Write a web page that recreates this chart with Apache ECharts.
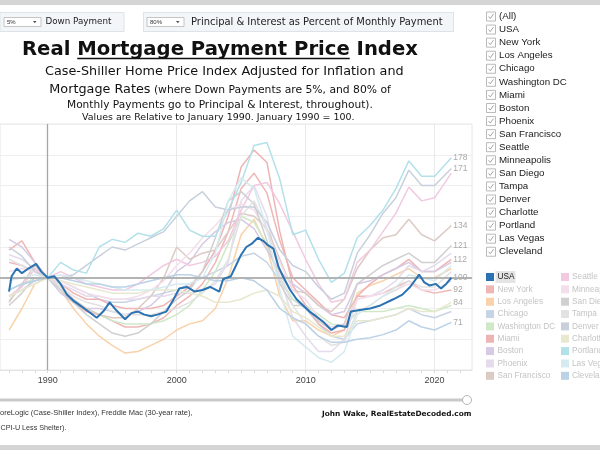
<!DOCTYPE html>
<html>
<head>
<meta charset="utf-8">
<script src="https://cdn.jsdelivr.net/npm/echarts@6/dist/echarts.min.js"></script>
<style>
  html, body { margin: 0; padding: 0; background: #fff; }
  #chart { width: 600px; height: 450px; }
</style>
</head>
<body>
<div id="chart"></div>
<script>
// ---- data (index, Jan 1990 = 100) ----
var years = [1987, 1988, 1989, 1990, 1991, 1992, 1993, 1994, 1995, 1996, 1997, 1998,
  1999, 2000, 2001, 2002, 2003, 2004, 2005, 2006, 2007, 2008, 2009, 2010, 2011, 2012,
  2013, 2014, 2015, 2016, 2017, 2018, 2019, 2020, 2021.3];

var usaYears = [1987.0, 1987.2, 1987.6, 1988.0, 1988.5, 1989.1, 1989.5, 1990.0, 1990.5, 1991.0,
  1991.5, 1992.0, 1992.5, 1993.0, 1993.8, 1994.3, 1994.8, 1995.3, 1996.0, 1996.5, 1997.0,
  1997.5, 1998.0, 1998.5, 1999.2, 1999.7, 2000.2, 2000.8, 2001.4, 2002.0, 2002.6, 2003.3,
  2003.6, 2004.2, 2004.6, 2005.0, 2005.4, 2005.8, 2006.3, 2006.7, 2007.1, 2007.5, 2007.9,
  2008.3, 2008.8, 2009.3, 2009.8, 2010.3, 2010.8, 2011.4, 2012.0, 2012.5, 2013.2, 2013.5,
  2014.2, 2015.0, 2015.8, 2016.8, 2017.5, 2018.1, 2018.8, 2019.2, 2019.6, 2020.1, 2020.5,
  2020.9, 2021.3];
var usa = [91, 101, 106, 103, 106, 109, 104, 100, 101, 96,
  89, 85, 82, 79, 74, 78, 84, 79, 73, 77, 78,
  76, 75, 76, 78, 85, 93, 94, 91, 92, 94, 91,
  99, 101, 108, 115, 120, 122, 126, 124, 121, 119, 107,
  100, 92, 86, 82, 78, 75, 71, 66, 69, 68, 78,
  79, 80, 82, 86, 89, 94, 102, 97, 95, 96, 93,
  96, 100];

var newYork = [118, 124, 110, 100, 92, 84, 78, 76, 72, 68, 68, 70, 74, 82, 88, 96, 110, 130, 158, 168, 155, 124, 100, 92, 84, 76, 74, 88, 88, 90, 94, 98, 92, 90, 92];
var losAngeles = [66, 80, 96, 100, 92, 80, 70, 62, 56, 51, 52, 56, 60, 66, 70, 72, 80, 100, 128, 138, 120, 88, 72, 72, 66, 62, 66, 90, 95, 98, 102, 106, 100, 100, 106];
var chicago = [88, 92, 98, 100, 98, 94, 90, 86, 84, 84, 86, 88, 90, 92, 96, 100, 104, 108, 114, 116, 110, 98, 86, 80, 70, 62, 60, 70, 72, 74, 76, 80, 76, 74, 78];
var washingtonDC = [85, 95, 100, 100, 92, 86, 80, 76, 72, 70, 70, 70, 72, 76, 82, 92, 104, 122, 140, 136, 122, 100, 86, 82, 76, 70, 68, 78, 78, 78, 80, 82, 80, 78, 82];
var miami = [110, 108, 104, 100, 96, 90, 86, 86, 82, 80, 80, 80, 82, 88, 94, 104, 118, 140, 172, 183, 175, 130, 95, 82, 70, 64, 66, 88, 96, 102, 106, 112, 104, 104, 112];
var boston = [125, 120, 110, 100, 90, 84, 80, 80, 78, 76, 78, 82, 90, 104, 110, 122, 130, 136, 138, 132, 118, 104, 96, 90, 82, 76, 78, 96, 98, 102, 106, 110, 104, 104, 110];
var phoenix = [115, 112, 106, 100, 96, 92, 88, 88, 86, 86, 86, 88, 88, 90, 90, 92, 96, 110, 150, 160, 140, 100, 74, 62, 52, 52, 60, 86, 88, 92, 98, 108, 104, 108, 116];
var sanFrancisco = [84, 96, 108, 100, 94, 86, 80, 76, 74, 74, 80, 88, 100, 120, 112, 116, 118, 130, 142, 140, 132, 112, 92, 90, 82, 78, 86, 106, 118, 126, 128, 138, 128, 124, 134];
var seattle = [88, 94, 106, 100, 104, 100, 96, 94, 92, 92, 96, 102, 108, 112, 108, 110, 114, 124, 144, 160, 162, 148, 130, 112, 96, 84, 86, 110, 118, 130, 142, 159, 150, 152, 168];
var minneapolis = [104, 106, 104, 100, 98, 94, 90, 88, 86, 86, 88, 92, 98, 108, 116, 126, 134, 144, 148, 144, 130, 110, 92, 86, 74, 68, 70, 86, 88, 90, 92, 96, 92, 92, 98];
var sanDiego = [82, 90, 100, 100, 92, 84, 76, 70, 64, 62, 64, 70, 78, 86, 92, 104, 126, 150, 156, 148, 124, 96, 82, 82, 72, 66, 70, 96, 102, 108, 112, 116, 110, 110, 121];
var tampa = [112, 108, 104, 100, 94, 88, 84, 82, 78, 76, 76, 76, 78, 80, 84, 90, 98, 112, 140, 150, 132, 104, 82, 70, 62, 56, 58, 78, 82, 88, 92, 98, 94, 94, 104];
var denver = [120, 114, 104, 100, 100, 102, 108, 114, 120, 118, 122, 126, 130, 140, 150, 156, 146, 144, 146, 146, 136, 118, 108, 104, 94, 86, 90, 116, 128, 142, 152, 170, 160, 160, 171];
var charlotte = [88, 92, 96, 100, 98, 96, 94, 92, 90, 90, 90, 92, 92, 92, 90, 88, 84, 84, 86, 90, 92, 88, 78, 74, 68, 62, 62, 72, 72, 74, 76, 80, 78, 78, 84];
var portland = [92, 96, 98, 100, 110, 105, 103, 120, 125, 123, 129, 127, 132, 144, 131, 127, 127, 144, 162, 186, 188, 164, 128, 131, 112, 97, 103, 126, 134, 144, 158, 176, 166, 166, 178];
var lasVegas = [98, 100, 102, 100, 102, 100, 98, 96, 94, 92, 92, 92, 94, 96, 96, 100, 116, 150, 165, 158, 132, 92, 62, 55, 48, 45, 52, 76, 82, 88, 94, 102, 100, 98, 108];
var cleveland = [92, 96, 98, 100, 100, 98, 96, 96, 94, 94, 96, 98, 100, 102, 102, 100, 98, 98, 100, 98, 92, 80, 74, 70, 62, 58, 58, 60, 61, 63, 66, 72, 68, 66, 71];

var cityNames = ['New York', 'Los Angeles', 'Chicago', 'Washington DC', 'Miami', 'Boston',
  'Phoenix', 'San Francisco', 'Seattle', 'Minneapolis', 'San Diego', 'Tampa', 'Denver',
  'Charlotte', 'Portland', 'Las Vegas', 'Cleveland'];
var cityValues = [newYork, losAngeles, chicago, washingtonDC, miami, boston, phoenix,
  sanFrancisco, seattle, minneapolis, sanDiego, tampa, denver, charlotte, portland,
  lasVegas, cleveland];
var labelledCities = ['New York', 'Miami', 'San Francisco', 'San Diego', 'Denver',
  'Charlotte', 'Portland', 'Cleveland'];

var xTickLabels = [1990, 2000, 2010, 2020];
var xMinorTicks = [1987, 1988, 1989, 1990, 1991, 1992, 1993, 1994, 1995, 1996, 1997, 1998,
  1999, 2000, 2001, 2002, 2003, 2004, 2005, 2006, 2007, 2008, 2009, 2010, 2011, 2012,
  2013, 2014, 2015, 2016, 2017, 2018, 2019, 2020, 2021, 2022];

// faded colours as drawn (USA highlighted)
var fadedColors = {
  'New York': '#f0b6b6', 'Los Angeles': '#f8d2ab', 'Chicago': '#c7d4e6',
  'Washington DC': '#cfe9c8', 'Miami': '#eeb4b4', 'Boston': '#d6cae4', 'Phoenix': '#e4dbec',
  'San Francisco': '#dccac4', 'Seattle': '#f1c9e1', 'Minneapolis': '#f3dfeb',
  'San Diego': '#d0d0d0', 'Tampa': '#e2e2e2', 'Denver': '#c8d0dc', 'Charlotte': '#e8e8cf',
  'Portland': '#b3e1ea', 'Las Vegas': '#d6ebf0', 'Cleveland': '#bcd2e6'
};
var usaColor = '#2a72b2';

var checkList = ['(All)', 'USA'].concat(cityNames.slice(0, 8)).concat(cityNames.slice(8));
var legendCol1 = ['USA', 'New York', 'Los Angeles', 'Chicago', 'Washington DC', 'Miami', 'Boston', 'Phoenix', 'San Francisco'];
var legendCol2 = ['Seattle', 'Minneapolis', 'San Diego', 'Tampa', 'Denver', 'Charlotte', 'Portland', 'Las Vegas', 'Cleveland'];

// ---- text helpers ----
var SANS = '"Liberation Sans", Arial, sans-serif';
var DEJA = '"DejaVu Sans", Verdana, sans-serif';
var ctx = document.createElement('canvas').getContext('2d');
function measure(text, weight, family, size) {
  ctx.font = weight + ' ' + size + 'px ' + family;
  return ctx.measureText(text).width;
}
function fitSize(text, weight, family, width) {
  return 100 * width / measure(text, weight, family, 100);
}
function txt(x, y, s, size, family, weight, color, align) {
  return {
    type: 'text', x: x, y: y, silent: true,
    style: {
      text: s, fill: color || '#222', fontSize: size, fontFamily: family,
      fontWeight: weight || 'normal', align: align || 'left', textAlign: align || 'left',
      verticalAlign: 'middle', textVerticalAlign: 'middle'
    }
  };
}

var g = [];
// top and bottom bands
g.push({ type: 'rect', shape: { x: 0, y: 0, width: 600, height: 5 }, style: { fill: '#d5d5d5' } });
g.push({ type: 'rect', shape: { x: 0, y: 445, width: 600, height: 5 }, style: { fill: '#d5d5d5' } });

// parameter controls
function control(x, w, ddX, ddLabel, label, labelX, labelW) {
  g.push({ type: 'rect', shape: { x: x, y: 12.5, width: w, height: 19 }, style: { fill: '#f3f6f9', stroke: '#dde3e8', lineWidth: 1 } });
  g.push({ type: 'rect', shape: { x: ddX, y: 17.5, width: 37, height: 9 }, style: { fill: '#fff', stroke: '#b8b8b8', lineWidth: 0.8 } });
  g.push(txt(ddX + 3, 22, ddLabel, 6, SANS, 'normal', '#333'));
  g.push({ type: 'polygon', shape: { points: [[ddX + 29, 21], [ddX + 32.5, 21], [ddX + 30.75, 23.2]] }, style: { fill: '#555' } });
  g.push(txt(labelX, 22, label, fitSize(label, 'normal', DEJA, labelW), DEJA, 'normal', '#222'));
}
control(0, 124, 4, '5%', 'Down Payment', 45.5, 66);
control(143.5, 310, 147, '80%', 'Principal & Interest as Percent of Monthly Payment', 191, 252);

// title with underlined middle part
var title = 'Real Mortgage Payment Price Index';
var tSize = fitSize(title, 'bold', DEJA, 396);
var uStart = 22 + measure('Real ', 'bold', DEJA, tSize);
var uEnd = uStart + measure('Mortgage Payment Price', 'bold', DEJA, tSize);
g.push(txt(22, 50, title, tSize, DEJA, 'bold', '#111'));
g.push({ type: 'line', shape: { x1: uStart, y1: 58.5, x2: uEnd, y2: 58.5 }, style: { stroke: '#111', lineWidth: 1.4 } });

var sub1 = 'Case-Shiller Home Price Index Adjusted for Inflation and';
var s1 = fitSize(sub1, 'normal', DEJA, 359);
g.push(txt(45, 71.5, sub1, s1, DEJA, 'normal', '#111'));
var mr = 'Mortgage Rates';
var mrW = measure(mr, 'normal', DEJA, s1);
g.push(txt(49.3, 89.5, mr, s1, DEJA, 'normal', '#111'));
var sub2b = ' (where Down Payments are 5%, and 80% of';
g.push(txt(49.3 + mrW, 90, sub2b, fitSize(sub2b, 'normal', DEJA, 391 - 49.3 - mrW), DEJA, 'normal', '#111'));
var sub3 = 'Monthly Payments go to Principal & Interest, throughout).';
g.push(txt(67, 105, sub3, fitSize(sub3, 'normal', DEJA, 306), DEJA, 'normal', '#111'));
var sub4 = 'Values are Relative to January 1990. January 1990 = 100.';
g.push(txt(82, 118, sub4, fitSize(sub4, 'normal', DEJA, 273), DEJA, 'normal', '#111'));

// checkbox filter list
var cbSize = fitSize('Minneapolis', 'normal', SANS, 52);
checkList.forEach(function (name, i) {
  var y = 16.5 + i * 13.07;
  g.push({ type: 'rect', shape: { x: 486.5, y: y - 4.5, width: 9, height: 9 }, style: { fill: '#fff', stroke: '#a8a8a8', lineWidth: 0.8 } });
  g.push({ type: 'polyline', shape: { points: [[488.5, y], [490.3, y + 2], [493.5, y - 2.5]] }, style: { stroke: '#9a9a9a', lineWidth: 0.9, fill: null } });
  g.push(txt(499, y, name, cbSize, SANS, 'normal', '#1a1a1a'));
});

// colour legend (USA highlighted)
var lgSize = fitSize('San Francisco', 'normal', SANS, 53);
g.push({ type: 'rect', shape: { x: 495.5, y: 271, width: 20, height: 12 }, style: { fill: '#e4e4e4' } });
function legendItem(name, col, row) {
  var sx = col === 0 ? 486 : 561, tx = col === 0 ? 497.5 : 572;
  var y = 277 + row * 12.35;
  var isUsa = name === 'USA';
  g.push({ type: 'rect', shape: { x: sx, y: y - 4, width: 8, height: 8 }, style: { fill: isUsa ? usaColor : fadedColors[name] } });
  g.push(txt(tx, y, name, lgSize, SANS, 'normal', isUsa ? '#222' : '#c4c4c4'));
}
legendCol1.forEach(function (n, i) { legendItem(n, 0, i); });
legendCol2.forEach(function (n, i) { legendItem(n, 1, i); });

// date range slider
g.push({ type: 'line', shape: { x1: 0, y1: 400, x2: 464, y2: 400 }, style: { stroke: '#c9c9c9', lineWidth: 3 } });
g.push({ type: 'circle', shape: { cx: 467, cy: 400, r: 4.5 }, style: { fill: '#fff', stroke: '#b5b5b5', lineWidth: 1 } });

// footer
var f1 = 'oreLogic (Case-Shiller Index), Freddie Mac (30-year rate),';
g.push(txt(0, 413, f1, fitSize(f1, 'normal', SANS, 193), SANS, 'normal', '#333'));
var f2 = 'CPI-U Less Shelter).';
g.push(txt(0.5, 428, f2, fitSize(f2, 'normal', SANS, 66), SANS, 'normal', '#333'));
var f3 = 'John Wake, RealEstateDecoded.com';
g.push(txt(322, 414, f3, fitSize(f3, 'bold', DEJA, 150), DEJA, 'bold', '#111'));

// ---- series ----
function pairs(xs, vs) { return xs.map(function (x, i) { return [x, vs[i]]; }); }
var endLabel = {
  show: true, distance: 2, color: '#a9a9a9', fontSize: 8.5, fontFamily: SANS,
  formatter: function (p) { return p.value[1]; }
};

var series = [];
series.push({
  type: 'line', data: [], silent: true,
  markLine: {
    silent: true, symbol: 'none', z: 1, label: { show: false },
    lineStyle: { color: '#e9e9e9', width: 1, type: 'solid' },
    data: [{ xAxis: 2000 }, { xAxis: 2010 }, { xAxis: 2020 }]
  }
});
cityNames.forEach(function (name, i) {
  series.push({
    name: name, type: 'line', z: 2, symbol: 'none', silent: true,
    data: pairs(years, cityValues[i]),
    lineStyle: { color: fadedColors[name], width: 1.5 },
    endLabel: labelledCities.indexOf(name) >= 0 ? endLabel : { show: false }
  });
});
series.push({
  type: 'line', data: [], silent: true,
  markLine: {
    silent: true, symbol: 'none', z: 3, label: { show: false },
    lineStyle: { color: '#a6a6a6', width: 1.3, type: 'solid' },
    data: [{ xAxis: 1990 }, { yAxis: 100, lineStyle: { color: '#b3b3b3', width: 2.2 } }]
  }
});
series.push({
  name: 'USA', type: 'line', z: 6, symbol: 'none', silent: true,
  data: pairs(usaYears, usa),
  lineStyle: { color: usaColor, width: 2 },
  endLabel: endLabel
});

var chart = echarts.init(document.getElementById('chart'), null, { renderer: 'canvas' });
chart.setOption({
  animation: false,
  backgroundColor: '#fff',
  grid: { left: 0, top: 124, width: 472, height: 246, show: true, borderColor: '#e6e6e6', borderWidth: 1 },
  xAxis: {
    type: 'value', min: 1986.3, max: 2022.9,
    axisLine: { lineStyle: { color: '#e2e2e2' } },
    axisTick: { show: true, customValues: xMinorTicks, length: 3, lineStyle: { color: '#d9d9d9' } },
    axisLabel: {
      customValues: xTickLabels, color: '#444', fontSize: 9, fontFamily: SANS, margin: 6,
      formatter: function (v) { return String(v); }
    },
    splitLine: { show: false }
  },
  yAxis: {
    type: 'value', min: 40, max: 200, interval: 20,
    axisLabel: { show: false }, axisLine: { show: false }, axisTick: { show: false },
    splitLine: { lineStyle: { color: '#eeeeee' } }
  },
  series: series,
  graphic: { elements: g }
});
</script>
</body>
</html>
